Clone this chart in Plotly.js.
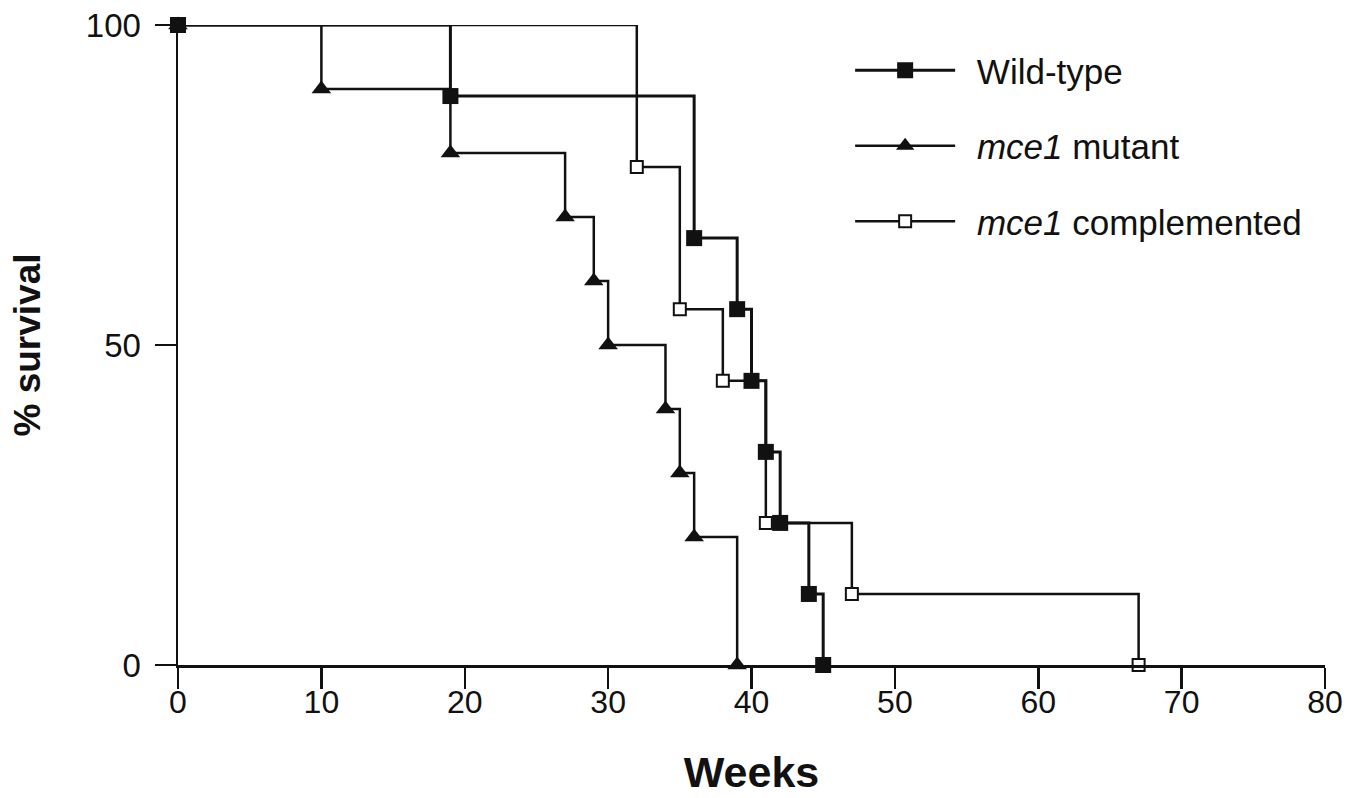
<!DOCTYPE html>
<html>
<head>
<meta charset="utf-8">
<script src="https://cdn.plot.ly/plotly-3.0.1.min.js"></script>
<style>
  html, body { margin: 0; padding: 0; background: #fff; }
  #chart { width: 1361px; height: 798px; }
</style>
</head>
<body>
<div id="chart"></div>
<script>
// Weeks at which survival changes, and % survival after each change
const weeksWildType = [0, 19, 36, 39, 40, 41, 42, 44, 45];
const survivalWildType = [100, 88.9, 66.7, 55.6, 44.4, 33.3, 22.2, 11.1, 0];

const weeksMutant = [0, 10, 19, 27, 29, 30, 34, 35, 36, 39];
const survivalMutant = [100, 90, 80, 70, 60, 50, 40, 30, 20, 0];

const weeksComplemented = [0, 32, 35, 38, 41, 47, 67];
const survivalComplemented = [100, 77.8, 55.6, 44.4, 22.2, 11.1, 0];

const seriesNames = ["Wild-type", "<i>mce1</i> mutant", "<i>mce1</i> complemented"];
const xTicks = [0, 10, 20, 30, 40, 50, 60, 70, 80];
const yTicks = [0, 50, 100];

const FONT = "Liberation Sans, Arial, Helvetica, sans-serif";
const PAD = "\u00A0\u2009"; // small gap between legend symbol and text

const traces = [
  {
    x: weeksComplemented, y: survivalComplemented, name: PAD + seriesNames[2],
    legendgroup: "c", legendrank: 3, type: "scatter", mode: "lines+markers",
    line: { shape: "hv", color: "#111", width: 2.5 },
    marker: { symbol: "square", size: 12, color: "#fff", line: { color: "#111", width: 2 } },
    cliponaxis: false
  },
  {
    x: weeksMutant, y: survivalMutant, name: PAD + seriesNames[1],
    legendgroup: "b", legendrank: 2, type: "scatter", mode: "lines+markers",
    line: { shape: "hv", color: "#111", width: 2.5 },
    marker: { symbol: "triangle-up", size: 17, color: "#111" },
    cliponaxis: false
  },
  {
    x: weeksWildType, y: survivalWildType, name: PAD + seriesNames[0],
    legendgroup: "a", legendrank: 1, type: "scatter", mode: "lines+markers",
    line: { shape: "hv", color: "#111", width: 3 },
    marker: { symbol: "square", size: 16, color: "#111" },
    cliponaxis: false
  }
];

const layout = {
  width: 1361, height: 798,
  margin: { l: 178, r: 36, t: 25, b: 133 },
  paper_bgcolor: "#fff", plot_bgcolor: "#fff",
  font: { family: FONT, color: "#111" },
  showlegend: true,
  legend: {
    x: 0.586, y: 0.975, xanchor: "left", yanchor: "top",
    traceorder: "grouped", tracegroupgap: 27,
    itemwidth: 100,
    font: { family: FONT, size: 35, color: "#111" },
    bgcolor: "rgba(0,0,0,0)"
  },
  xaxis: {
    range: [0, 80], tickvals: xTicks, ticktext: xTicks.map(String),
    showline: true, linecolor: "#111", linewidth: 2.5,
    ticks: "outside", ticklen: 21, tickwidth: 2.5, tickcolor: "#111",
    ticklabelstandoff: -14,
    showgrid: false, zeroline: false,
    tickfont: { family: FONT, size: 32, color: "#111" },
    title: { text: "<b>Weeks</b>", font: { family: FONT, size: 43, color: "#111" }, standoff: 38 }
  },
  yaxis: {
    range: [0, 100], tickvals: yTicks, ticktext: yTicks.map(String),
    showline: true, linecolor: "#111", linewidth: 2.5,
    ticks: "outside", ticklen: 21, tickwidth: 2.5, tickcolor: "#111",
    ticklabelstandoff: 7,
    showgrid: false, zeroline: false,
    tickfont: { family: FONT, size: 33, color: "#111" },
    title: { text: "<b>% survival</b>", font: { family: FONT, size: 37, color: "#111" }, standoff: 34 }
  }
};

Plotly.newPlot("chart", traces, layout, { displayModeBar: false, staticPlot: true });
</script>
</body>
</html>
